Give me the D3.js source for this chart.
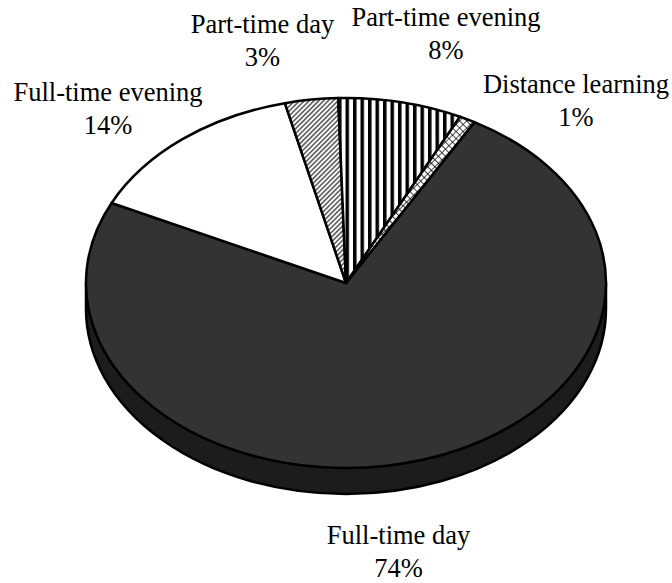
<!DOCTYPE html>
<html lang="en">
<head>
    <meta charset="UTF-8">
    <title>Study modes</title>
    <style>
        body { margin: 0; background: #fff; }
        svg { display: block; }
        text { font-family: "Liberation Serif", serif; font-size: 26.5px; fill: #000; }
    </style>
</head>
<body>
    <script src="https://cdnjs.cloudflare.com/ajax/libs/d3/7.8.2/d3.min.js"></script>
    <script>
        const categories = ["Full-time day", "Full-time evening", "Part-time day", "Part-time evening", "Distance learning"]
        const shares = [73.9, 14.1, 3.3, 7.7, 1.0]
        const shareLabels = ["74%", "14%", "3%", "8%", "1%"]

        const w = 672
        const h = 583
        const cx = 346
        const cy = 283
        const rx = 260
        const ry = 185
        const depth = 26

        const fills = ["#333333", "#ffffff", "url(#diag)", "url(#vert)", "url(#cross)"]
        // label centres and baselines, picked by eye
        const labelPos = [[398.5, 544], [108, 101], [262.5, 33], [446, 26], [576, 93]]

        const svg = d3.select("body").append("svg")
            .attr("width", w)
            .attr("height", h)

        const defs = svg.append("defs")

        const diag = defs.append("pattern")
            .attr("id", "diag")
            .attr("width", 3.4).attr("height", 3.4)
            .attr("patternUnits", "userSpaceOnUse")
            .attr("patternTransform", "rotate(-45)")
        diag.append("rect").attr("width", 3.4).attr("height", 3.4).attr("fill", "#fff")
        diag.append("rect").attr("width", 3.4).attr("height", 1.7).attr("fill", "#666")

        const vert = defs.append("pattern")
            .attr("id", "vert")
            .attr("width", 7.5).attr("height", 8)
            .attr("x", 338)
            .attr("patternUnits", "userSpaceOnUse")
        vert.append("rect").attr("width", 7.5).attr("height", 8).attr("fill", "#fff")
        vert.append("rect").attr("width", 3.5).attr("height", 8).attr("fill", "#000")

        const cross = defs.append("pattern")
            .attr("id", "cross")
            .attr("width", 5).attr("height", 5)
            .attr("patternUnits", "userSpaceOnUse")
            .attr("patternTransform", "rotate(45)")
        cross.append("rect").attr("width", 5).attr("height", 5).attr("fill", "#fff")
        cross.append("path").attr("d", "M0,0H5M0,0V5").attr("stroke", "#000").attr("stroke-width", 1.4)

        // angles in the plane of the disc, clockwise from the top
        const pie = d3.pie()
            .sort(null)
            .startAngle(29.6 * Math.PI / 180)
            .endAngle((360 + 29.6) * Math.PI / 180)

        const rimX = d3.scaleLinear().domain([-1, 1]).range([cx - rx, cx + rx])
        const rimY = d3.scaleLinear().domain([-1, 1]).range([cy + ry, cy - ry])

        function slicePath(d) {
            const x0 = rimX(Math.sin(d.startAngle))
            const y0 = rimY(Math.cos(d.startAngle))
            const x1 = rimX(Math.sin(d.endAngle))
            const y1 = rimY(Math.cos(d.endAngle))
            const large = d.endAngle - d.startAngle > Math.PI ? 1 : 0
            return `M${cx},${cy}L${x0},${y0}A${rx},${ry} 0 ${large} 1 ${x1},${y1}Z`
        }

        // side wall of the disc
        svg.append("path")
            .attr("d", `M${cx - rx},${cy}A${rx},${ry} 0 0 0 ${cx + rx},${cy}V${cy + depth}A${rx},${ry} 0 0 1 ${cx - rx},${cy + depth}Z`)
            .attr("fill", "#1c1c1c")
            .attr("stroke", "#000")
            .attr("stroke-width", 2.5)

        svg.selectAll("path.slice")
            .data(pie(shares))
            .enter()
            .append("path")
                .attr("class", "slice")
                .attr("d", slicePath)
                .attr("fill", (d, i) => fills[i])
                .attr("stroke", "#000")
                .attr("stroke-width", 2.5)
                .attr("stroke-linejoin", "round")

        const labels = svg.selectAll("text.label")
            .data(categories)
            .enter()
            .append("text")
                .attr("class", "label")
                .attr("text-anchor", "middle")
                .attr("transform", (d, i) => `translate(${labelPos[i][0]},${labelPos[i][1]})`)

        labels.append("tspan").attr("x", 0).attr("y", 0).text(d => d)
        labels.append("tspan").attr("x", 0).attr("y", 33).text((d, i) => shareLabels[i])
    </script>
</body>
</html>
